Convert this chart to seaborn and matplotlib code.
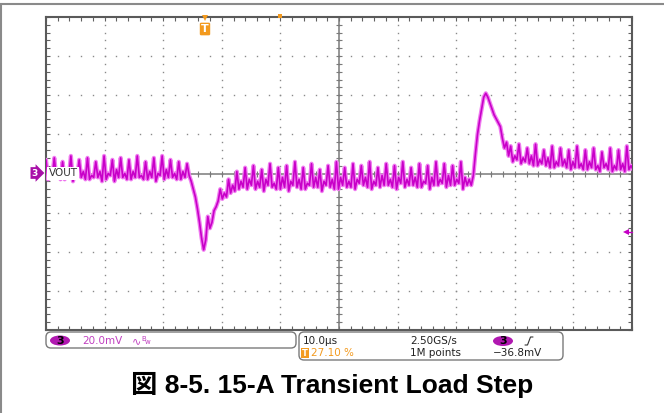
import numpy as np
import matplotlib
matplotlib.use("Agg")
import matplotlib.pyplot as plt
import seaborn as sns
from matplotlib.patches import FancyBboxPatch, Ellipse
from matplotlib.ticker import FixedLocator

# scope settings
US_PER_DIV = 10.0
MV_PER_DIV = 20.0
TRIG_POS = 0.271      # part of the record before the trigger
SAMPLE_US = 0.354     # spacing of the read-off points (4 per ripple cycle)

# VOUT in mV around the channel offset
# each row is one ripple cycle: spike, low, mid, low
vout_before = [7, -3, 1, -2,
               8, -2, 0, -3,
               6, -3, 2, -1,
               9, -4, 0, -2,
               7, -2, 1, -3,
               8, -3, -1, -2,
               6, -2, 1, -4,
               9, -3, 0, -1,
               7, -4, 2, -2,
               8, -2, 0, -3,
               7, -3, 1, -2,
               9, -2, -1, -3,
               6, -3, 1, -2,
               8, -4, 0, -1,
               9, -3, 2, -2,
               7, -2, 0, -3,
               6, -3, 1, -2]
vout_drop = [5, -1, -4, -8, -12, -18, -25, -33, -39, -34, -22, -28, -25, -19, -17, -14]
vout_mid = [-8, -13, -10, -12,
            -3, -10, -6, -9,
            1, -8, -4, -7,
            3, -8, -3, -6,
            4, -8, -4, -7,
            2, -9, -3, -6,
            5, -7, -5, -8,
            3, -8, -2, -7,
            4, -9, -4, -6,
            6, -7, -3, -8,
            3, -8, -5, -6,
            5, -7, -2, -7,
            2, -9, -4, -6,
            4, -7, -3, -8,
            6, -8, -2, -6,
            3, -7, -4, -7,
            5, -8, -3, -5,
            4, -6, -2, -7,
            6, -8, -4, -6,
            3, -7, -1, -6,
            5, -6, -3, -7,
            4, -8, -2, -5,
            6, -7, -3, -6,
            3, -6, -2, -7,
            5, -7, -4, -5,
            4, -8, -2, -6,
            6, -6, -3, -5,
            5, -7, -1, -6,
            4, -6, -3, -5,
            6, -8, -2, -6]
vout_peak = [-3, -6, -1, 10, 20, 27, 33, 39, 41, 39,
             36, 33, 30, 28, 26, 24, 18, 13, 16, 9]
vout_after = [14, 6, 9, 7,
              15, 5, 8, 6,
              13, 5, 9, 4,
              15, 4, 7, 5,
              12, 4, 8, 3,
              14, 3, 6, 4,
              13, 4, 7, 3,
              12, 2, 6, 3,
              14, 3, 5, 2,
              12, 2, 6, 3,
              13, 2, 4, 1,
              11, 3, 5, 2,
              13, 1, 4, 2,
              12, 2, 5, 1,
              14, 2, 4, 2]

# readout texts
ch_scale = "20.0mV"
timebase = "10.0\u00b5s"
trig_pos_label = "27.10 %"
sample_rate = "2.50GS/s"
record_len = "1M points"
trig_level = "\u221236.8mV"
title = "\u56f3 8-5. 15-A Transient Load Step"

MAGENTA = "#c400c4"
PURPLE = "#a80fa8"
ORANGE = "#f39a1e"
GRID = "#8a8a8a"

vout = np.array(vout_before + vout_drop + vout_mid + vout_peak + vout_after, dtype=float)
t_left = -TRIG_POS * 10 * US_PER_DIV
t_right = t_left + 10 * US_PER_DIV
t = t_left + np.arange(len(vout)) * SAMPLE_US

sns.set_style("white")
fig = plt.figure(figsize=(6.64, 4.13), dpi=100)
ax = fig.add_axes([46 / 664, 1 - 330 / 413, 586 / 664, 313 / 413])
ax.set_xlim(t_left, t_right)
ax.set_ylim(-4 * MV_PER_DIV, 4 * MV_PER_DIV)

x_major = t_left + US_PER_DIV * np.arange(11)
x_minor = t_left + US_PER_DIV / 5 * np.arange(51)
y_major = MV_PER_DIV * np.arange(-4, 5)
y_minor = MV_PER_DIV / 5 * np.arange(-20, 21)
x_mid = x_major[5]

# dotted graticule
gx, gy = np.meshgrid(x_major[1:-1], y_minor)
ax.plot(gx.ravel(), gy.ravel(), ls="none", marker="s", ms=1.0, mew=0, color=GRID)
gx, gy = np.meshgrid(x_minor, y_major[1:-1])
ax.plot(gx.ravel(), gy.ravel(), ls="none", marker="s", ms=1.0, mew=0, color=GRID)

# centre cross with small ticks
ax.axhline(0, color="#7a7a7a", lw=1.1)
ax.axvline(x_mid, color="#7a7a7a", lw=1.1)
ax.plot(x_minor, np.zeros_like(x_minor), ls="none", marker="|", ms=4, mew=0.8, color="#7a7a7a")
ax.plot(np.full_like(y_minor, x_mid), y_minor, ls="none", marker="_", ms=4, mew=0.8, color="#7a7a7a")

# frame ticks
ax.xaxis.set_major_locator(FixedLocator(x_major))
ax.xaxis.set_minor_locator(FixedLocator(x_minor))
ax.yaxis.set_major_locator(FixedLocator(y_major))
ax.yaxis.set_minor_locator(FixedLocator(y_minor))
ax.tick_params(which="both", direction="in", top=True, right=True, bottom=True, left=True,
               labelleft=False, labelbottom=False, length=3, width=0.8, color="#606060")
for sp in ax.spines.values():
    sp.set_color("#5a5a5a")
    sp.set_linewidth(1.5)

# trace: light persistence halo plus the darker core
sns.lineplot(x=t, y=vout, ax=ax, color="#f07cf0", lw=3.0, estimator=None, sort=False, zorder=5)
sns.lineplot(x=t, y=vout, ax=ax, color="#c800c8", lw=1.2, estimator=None, sort=False, zorder=6)
ax.set_xlabel("")
ax.set_ylabel("")

# overlay in pixel coordinates for the scope annotations
ov = fig.add_axes([0, 0, 1, 1], zorder=10)
ov.set_xlim(0, 664)
ov.set_ylim(413, 0)
ov.axis("off")
ov.patch.set_alpha(0)

# page border lines
ov.plot([0, 664], [4, 4], color="#8a8a8a", lw=1.5)
ov.plot([1, 1], [4, 413], color="#8a8a8a", lw=1.5)

# channel marker and label
ov.text(35, 173, "3", ha="center", va="center", fontsize=6.5, color="white", weight="bold",
        bbox=dict(boxstyle="rarrow,pad=0.15", fc=PURPLE, ec="none"))
ov.text(48.5, 173.5, "VOUT", ha="left", va="center", fontsize=7.5, color="#333333",
        bbox=dict(boxstyle="square,pad=0.1", fc="white", ec="none"))

# trigger position and level markers
ov.plot(205, 18, marker="v", ms=5, color=ORANGE, mew=0)
ov.text(205, 29, "T", ha="center", va="center", fontsize=8, color="white", weight="bold",
        bbox=dict(boxstyle="round,pad=0.12", fc=ORANGE, ec="none"))
ov.plot(280, 15.5, marker="s", ms=3, color=ORANGE, mew=0)
ov.plot(626, 232, marker="<", ms=5, color=MAGENTA, mew=0)
ov.plot([626, 632], [232, 232], color=MAGENTA, lw=1)

# readout boxes
ov.add_patch(FancyBboxPatch((46, 332), 250, 16, boxstyle="round,pad=0,rounding_size=5",
                            fc="white", ec="#7a7a7a", lw=1))
ov.add_patch(FancyBboxPatch((299, 332), 264, 28, boxstyle="round,pad=0,rounding_size=5",
                            fc="white", ec="#7a7a7a", lw=1))
ov.add_patch(Ellipse((60, 340.5), 20, 10, fc="#b018b0", ec="none", zorder=2))
ov.text(60, 341, "3", ha="center", va="center", fontsize=8, weight="bold", color="black", zorder=3)
ov.text(82, 341, ch_scale, ha="left", va="center", fontsize=7.5, color="#c040c0")
ov.text(132, 341, "\u223f", ha="left", va="center", fontsize=8, color="#c040c0")
ov.text(141, 339, "B", ha="left", va="center", fontsize=5, color="#c040c0")
ov.text(145, 342, "w", ha="left", va="center", fontsize=5, color="#c040c0")

ov.text(303, 341, timebase, ha="left", va="center", fontsize=7.5, color="#222222")
ov.text(305, 353, "T", ha="center", va="center", fontsize=6, color="white", weight="bold",
        bbox=dict(boxstyle="square,pad=0.1", fc=ORANGE, ec="none"))
ov.text(311, 353, trig_pos_label, ha="left", va="center", fontsize=7.5, color=ORANGE)
ov.text(410, 341, sample_rate, ha="left", va="center", fontsize=7.5, color="#222222")
ov.text(410, 353, record_len, ha="left", va="center", fontsize=7.5, color="#222222")
ov.add_patch(Ellipse((503, 341), 20, 10, fc="#b018b0", ec="none", zorder=2))
ov.text(503, 341.5, "3", ha="center", va="center", fontsize=8, weight="bold", color="black", zorder=3)
ov.plot([525, 527.5, 530.5, 533], [345, 345, 337, 337], color="#333333", lw=0.8)
ov.text(493, 353, trig_level, ha="left", va="center", fontsize=7.5, color="#222222")

# caption
ov.text(332, 393, title, ha="center", va="baseline", fontsize=19, weight="bold", color="black",
        family=["Liberation Sans", "Noto Sans CJK JP"])

fig.savefig("out.png", dpi=100)
